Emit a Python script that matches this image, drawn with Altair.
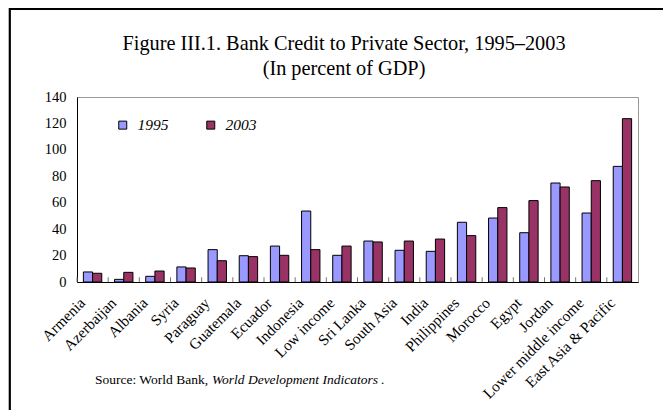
import altair as alt
import pandas as pd

categories = ["Armenia", "Azerbaijan", "Albania", "Syria", "Paraguay", "Guatemala",
              "Ecuador", "Indonesia", "Low income", "Sri Lanka", "South Asia", "India",
              "Philippines", "Morocco", "Egypt", "Jordan", "Lower middle income",
              "East Asia & Pacific"]
v1995 = [7.6, 2.0, 4.3, 11.4, 24.5, 19.9, 27.2, 53.7, 20.2, 31.0, 24.0, 23.2,
         45.2, 48.4, 37.3, 74.9, 52.2, 87.5]
v2003 = [6.6, 7.3, 8.3, 10.6, 16.1, 19.2, 20.2, 24.5, 27.2, 30.3, 31.0, 32.5,
         35.1, 56.3, 61.6, 71.9, 76.7, 123.6]
years = ["1995", "2003"]
colors = ["#9999FF", "#993366"]
y_ticks = [0, 20, 40, 60, 80, 100, 120, 140]

title1 = "Figure III.1. Bank Credit to Private Sector, 1995\u20132003"
title2 = "(In percent of GDP)"
source1 = "Source: World Bank, "
source2 = "World Development Indicators ."

FONT = "Liberation Serif"
W, H = 561, 185
P_IN = 0.41
STEP = W / (len(categories) - P_IN + P_IN)

rows = []
for c, a, b in zip(categories, v1995, v2003):
    rows.append({"country": c, "year": years[0], "value": a})
    rows.append({"country": c, "year": years[1], "value": b})
df = pd.DataFrame(rows)
cat_df = pd.DataFrame({"country": categories, "value": [0.0] * len(categories),
                       "hi": [3.6] * len(categories)})

xscale = alt.Scale(domain=categories, paddingInner=P_IN, paddingOuter=P_IN / 2)
yscale = alt.Scale(domain=[0, 140], nice=False)

xaxis = alt.Axis(title=None, labelAngle=-45, labelAlign="right",
                 labelBaseline="middle", labelPadding=18, labelOffset=-10,
                 ticks=False, labelFont=FONT, labelFontSize=15.3, labelColor="black",
                 labelOverlap=False, labelBound=False,
                 domainColor="black", domainWidth=1)
yaxis = alt.Axis(title=None, values=y_ticks, ticks=False, grid=False,
                 labelFont=FONT, labelFontSize=14.5, labelColor="black",
                 labelOverlap=False, labelFlush=False,
                 labelPadding=11, domainColor="black", domainWidth=1)

bars = alt.Chart(df).mark_bar(stroke="black", strokeWidth=1).encode(
    x=alt.X("country:N", scale=xscale, sort=categories, axis=xaxis),
    xOffset=alt.XOffset("year:N", sort=years),
    y=alt.Y("value:Q", scale=yscale, axis=yaxis),
    color=alt.Color("year:N", sort=years,
                    scale=alt.Scale(domain=years, range=colors),
                    legend=alt.Legend(title=None, orient="none", legendX=38, legendY=20,
                                      direction="horizontal", symbolType="square",
                                      symbolSize=64, symbolStrokeColor="black",
                                      symbolStrokeWidth=1, labelFont=FONT,
                                      labelFontSize=15.5, labelFontStyle="italic",
                                      labelColor="black", labelOffset=7,
                                      columnPadding=34, padding=0)),
)

ticks = alt.Chart(cat_df).mark_rule(color="#777777", strokeWidth=1,
                                    xOffset=-P_IN * STEP / 2).encode(
    x=alt.X("country:N", scale=xscale, sort=categories, bandPosition=0, axis=xaxis),
    y=alt.Y("value:Q", scale=yscale, axis=yaxis),
    y2="hi:Q",
)

one = pd.DataFrame({"t1": [title1], "t2": [title2], "s1": [source1], "s2": [source2]})
base = alt.Chart(one)

t1 = base.mark_text(font=FONT, fontSize=20.3, align="center", baseline="alphabetic",
                    color="black").encode(text="t1:N", x=alt.value(267), y=alt.value(-47))
t2 = base.mark_text(font=FONT, fontSize=20.3, align="center", baseline="alphabetic",
                    color="black").encode(text="t2:N", x=alt.value(267), y=alt.value(-22))
s1 = base.mark_text(font=FONT, fontSize=13.5, align="left", baseline="alphabetic",
                    color="black").encode(text="s1:N", x=alt.value(18), y=alt.value(287))
s2 = base.mark_text(font=FONT, fontSize=13.5, align="left", baseline="alphabetic",
                    fontStyle="italic", color="black").encode(
    text="s2:N", x=alt.value(135), y=alt.value(287))

frame = base.mark_rect(fill="transparent", stroke="black", strokeWidth=2.2).encode(
    x=alt.value(-67.2), x2=alt.value(620), y=alt.value(-88), y2=alt.value(340))

chart = alt.layer(frame, bars, ticks, t1, t2, s1, s2).properties(
    width=W, height=H,
    autosize=alt.AutoSizeParams(type="none"),
    padding={"left": 69, "top": 89, "right": 25, "bottom": 128},
).configure_view(stroke="#999999", strokeWidth=1)

chart.save("out.html", embed_options={"renderer": "svg", "actions": False})
